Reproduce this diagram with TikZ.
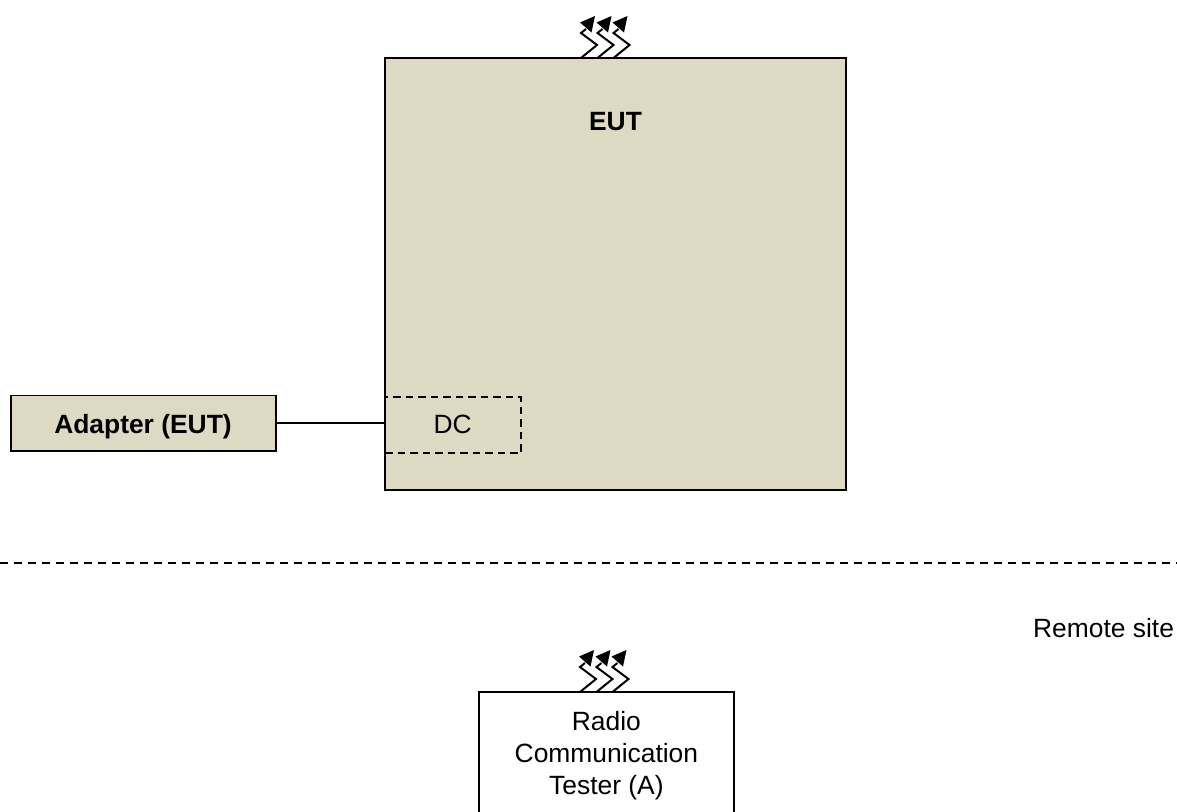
\documentclass[tikz,border=0pt]{standalone}
\usepackage{fontspec}
\setmainfont{Liberation Sans}
\definecolor{boxfill}{HTML}{DDD9C3}
\tikzset{
  x=1pt,y=-1pt,
  box/.style={draw=black,line width=1.9pt,inner sep=0pt,outer sep=0pt,anchor=north west},
  eutbox/.style={box,fill=boxfill},
  lbl/.style={font=\fontsize{26.4}{32}\selectfont,inner sep=0pt,outer sep=0pt,align=center,text=black},
  blbl/.style={lbl,font=\fontsize{26.4}{32}\selectfont\bfseries},
  link/.style={draw=black,line width=1.9pt},
  dashline/.style={draw=black,line width=1.2pt,dash pattern=on 8pt off 6pt},
  dcbox/.style={draw=black,line width=1.9pt,dash pattern=on 7.5pt off 5pt,inner sep=0pt,outer sep=0pt,anchor=north west},
  zig/.style={draw=black,line width=2pt,miter limit=4},
  tip/.style={fill=black,draw=none}
}
\newcommand{\zigarrow}[2]{%
  \begin{scope}[shift={(#1,#2)}]
    \draw[zig] (0,0) -- (16,-13) -- (0,-25) -- (5,-29);
    \fill[tip] (14,-42) -- (-1,-35.5) -- (10.5,-25.5) -- cycle;
  \end{scope}}
\begin{document}
\begin{tikzpicture}
\useasboundingbox (0,0) rectangle (1177,811);
\node[eutbox,minimum width=461.3pt,minimum height=431.5pt] (eut) at (385,58.3) {};
\node[eutbox,minimum width=265pt,minimum height=55.5pt] (adapter) at (11,395.5) {};
\node[blbl,anchor=base] (adaptertext) at (143,433.3) {Adapter (EUT)};
\node[blbl,anchor=base] (euttext) at (615.5,130.7) {EUT};
\node[dcbox,minimum width=136pt,minimum height=56pt] (dc) at (385,397) {};
\node[lbl,anchor=base] (dctext) at (452.7,433.3) {DC};
\draw[link] (adapter.east) -- (adapter.east -| dc.west);
\coordinate (dl) at (0,563);
\coordinate (dr) at (1177,563);
\draw[dashline] (dl) -- (dr);
\node[lbl,anchor=base east] (remote) at (1174,637) {Remote site};
\draw[box] (479,815) -- (479,692) -- (734,692) -- (734,815);
\node[lbl] (tester) at (606.4,755.5) {Radio\\Communication\\Tester (A)};
\zigarrow{581}{58}\zigarrow{597.5}{58}\zigarrow{613.5}{58}
\zigarrow{580}{692}\zigarrow{596.5}{692}\zigarrow{612.5}{692}
\end{tikzpicture}
\end{document}
